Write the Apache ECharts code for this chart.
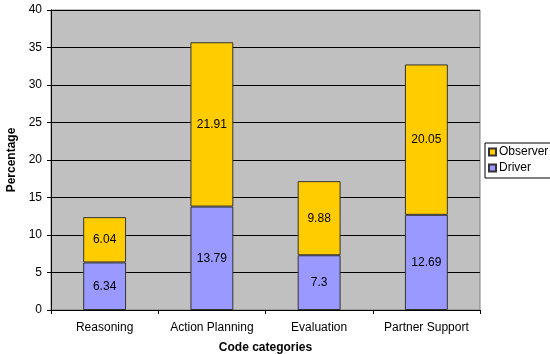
<!DOCTYPE html>
<html>
<head>
<meta charset="utf-8">
<script src="https://cdn.jsdelivr.net/npm/echarts@6/dist/echarts.min.js"></script>
<style>
  html, body { margin: 0; padding: 0; background: #fff; }
  #chart { width: 550px; height: 354px; }
</style>
</head>
<body>
<div id="chart"></div>
<script>
// Share of coded utterances per category, split by role
const categories = ['Reasoning', 'Action Planning', 'Evaluation', 'Partner Support'];
const driverValues = [6.34, 13.79, 7.3, 12.69];
const observerValues = [6.04, 21.91, 9.88, 20.05];
const yTicks = [0, 5, 10, 15, 20, 25, 30, 35, 40];

const FONT = 'Liberation Sans, Arial, sans-serif';

const chart = echarts.init(document.getElementById('chart'), null, { renderer: 'canvas' });

const barLabel = {
  show: true,
  position: 'inside',
  color: '#000',
  fontFamily: FONT,
  fontSize: 12
};

chart.setOption({
  animation: false,
  backgroundColor: '#fff',
  grid: {
    left: 51, top: 10, width: 429, height: 300,
    outerBoundsMode: 'none',
    containLabel: false,
    show: true,
    backgroundColor: '#C0C0C0',
    borderColor: '#808080',
    borderWidth: 1
  },
  legend: {
    data: ['Observer', 'Driver'],
    orient: 'vertical',
    left: 485,
    top: 143,
    itemWidth: 7,
    itemHeight: 7,
    itemGap: 4,
    padding: [3, 8, 4, 3],
    borderColor: '#000',
    borderWidth: 1,
    backgroundColor: '#fff',
    icon: 'rect',
    textStyle: { fontFamily: FONT, fontSize: 12, color: '#000', padding: [0, 0, 0, -2] }
  },
  xAxis: {
    type: 'category',
    data: categories,
    name: 'Code categories',
    nameLocation: 'middle',
    nameGap: 32,
    nameTextStyle: { fontFamily: FONT, fontSize: 12, fontWeight: 'bold', color: '#000' },
    axisLine: { lineStyle: { color: '#000', width: 1 } },
    axisTick: { show: true, length: 4, lineStyle: { color: '#000' } },
    axisLabel: { fontFamily: FONT, fontSize: 12, color: '#000', margin: 12, interval: 0, hideOverlap: false }
  },
  yAxis: {
    type: 'value',
    min: yTicks[0],
    max: yTicks[yTicks.length - 1],
    interval: yTicks[1] - yTicks[0],
    name: 'Percentage',
    nameLocation: 'middle',
    nameGap: 26,
    nameTextStyle: { fontFamily: FONT, fontSize: 12, fontWeight: 'bold', color: '#000' },
    axisLine: { show: true, lineStyle: { color: '#000', width: 1 } },
    axisTick: { show: true, length: 4, lineStyle: { color: '#000' } },
    axisLabel: { fontFamily: FONT, fontSize: 12, color: '#000', margin: 9 },
    splitLine: { show: true, lineStyle: { color: '#000', width: 1 } }
  },
  series: [
    {
      name: 'Driver',
      type: 'bar',
      stack: 'total',
      data: driverValues,
      barWidth: '40%',
      itemStyle: { color: '#9999FF', borderColor: '#333', borderWidth: 1 },
      label: barLabel
    },
    {
      name: 'Observer',
      type: 'bar',
      stack: 'total',
      data: observerValues,
      barWidth: '40%',
      itemStyle: { color: '#FFCC00', borderColor: '#333', borderWidth: 1 },
      label: barLabel
    }
  ]
});
</script>
</body>
</html>
